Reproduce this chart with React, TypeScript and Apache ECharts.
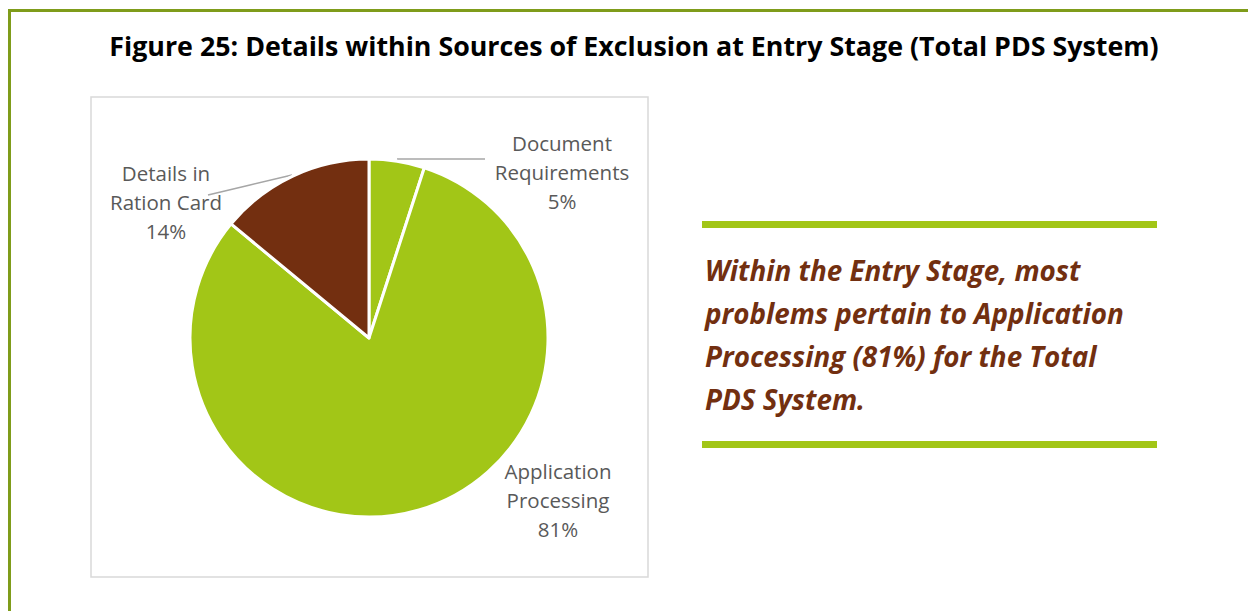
import React, { useEffect, useRef } from "react";
import * as echarts from "echarts";

const titleText = "Figure 25: Details within Sources of Exclusion at Entry Stage (Total PDS System)";
const categories = ["Document\nRequirements", "Application\nProcessing", "Details in\nRation Card"];
const values = [5, 81, 14];
const sliceColors = ["#a2c617", "#a2c617", "#732f10"];
const calloutLines = [
  "Within the Entry Stage, most",
  "problems pertain to Application",
  "Processing (81%) for the Total",
  "PDS System.",
];

const labelPos = [
  { x: 562, y: 172, line: [[397, 159], [441, 159], [485, 159]] },
  { x: 558, y: 500, line: null },
  { x: 166, y: 202, line: [[292, 175], [250, 185], [208, 195]] },
];

export default function App() {
  const ref = useRef<HTMLDivElement>(null);
  useEffect(() => {
    const chart = echarts.init(ref.current!, null, { renderer: "svg" });
    const font = "'Open Sans', 'Noto Sans', sans-serif";
    chart.setOption({
      animation: false,
      backgroundColor: "#ffffff",
      graphic: [
        {
          type: "rect",
          shape: { x: 9.5, y: 10.5, width: 1400, height: 800 },
          style: { fill: "none", stroke: "#7f9c1a", lineWidth: 3 },
          z: 1,
        },
        {
          type: "rect",
          shape: { x: 91, y: 97, width: 557, height: 480 },
          style: { fill: "#ffffff", stroke: "#d9d9d9", lineWidth: 1.5 },
          z: 1,
        },
        {
          type: "text",
          x: 634,
          y: 45,
          style: {
            text: titleText,
            font: `bold 26.8px ${font}`,
            fill: "#000000",
            align: "center",
            verticalAlign: "middle",
          },
          z: 5,
        },
        {
          type: "rect",
          shape: { x: 702, y: 221, width: 455, height: 7 },
          style: { fill: "#a2c617" },
          z: 5,
        },
        {
          type: "rect",
          shape: { x: 702, y: 441, width: 455, height: 7 },
          style: { fill: "#a2c617" },
          z: 5,
        },
        {
          type: "text",
          x: 705,
          y: 248,
          style: {
            text: calloutLines.join("\n"),
            font: `italic bold 27.8px ${font}`,
            fill: "#722f10",
            lineHeight: 43,
            align: "left",
            verticalAlign: "top",
          },
          z: 5,
        },
      ],
      series: [
        {
          type: "pie",
          center: [369, 338],
          radius: [0, 179],
          startAngle: 90,
          clockwise: true,
          z: 3,
          itemStyle: { borderColor: "#ffffff", borderWidth: 3 },
          label: {
            show: true,
            formatter: "{b}\n{d}%",
            fontFamily: font,
            fontSize: 20.5,
            lineHeight: 29,
            color: "#595959",
            align: "center",
          },
          labelLine: { show: true, lineStyle: { color: "#a6a6a6", width: 1.5 } },
          labelLayout: (p: any) => {
            const pos = labelPos[p.dataIndex];
            const r: any = { x: pos.x, y: pos.y, align: "center", verticalAlign: "middle" };
            if (pos.line) r.labelLinePoints = pos.line;
            return r;
          },
          data: categories.map((c, i) => ({
            name: c,
            value: values[i],
            itemStyle: { color: sliceColors[i] },
            labelLine: { show: labelPos[i].line !== null },
          })),
        },
      ],
    });
    return () => chart.dispose();
  }, []);
  return (
    <div
      ref={ref}
      style={{ position: "fixed", left: 0, top: 0, width: 1248, height: 611 }}
    />
  );
}
